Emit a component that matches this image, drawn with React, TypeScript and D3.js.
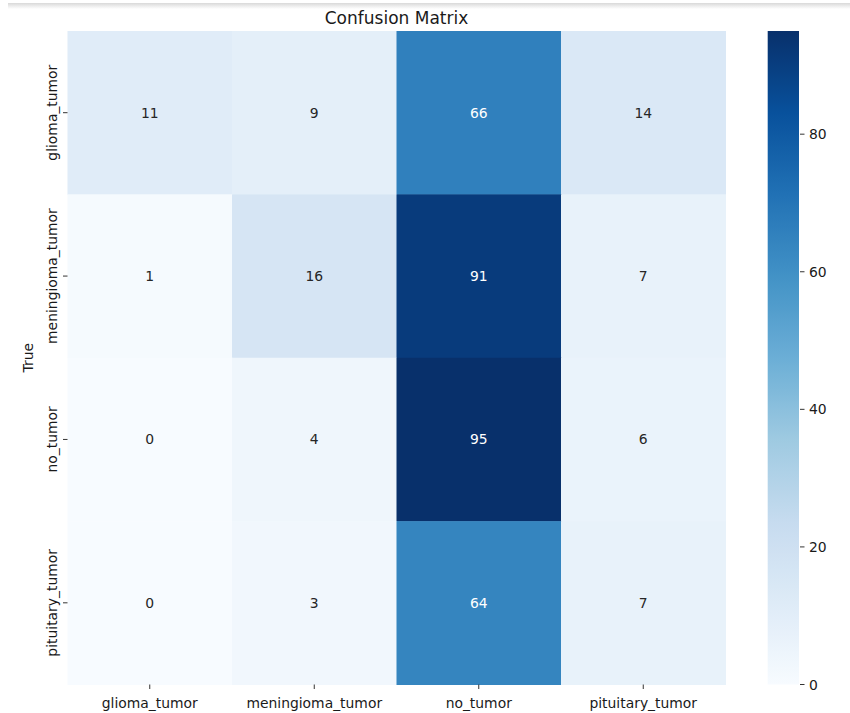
import React from "react";
import * as d3 from "d3";

const categories = ["glioma_tumor", "meningioma_tumor", "no_tumor", "pituitary_tumor"];
const row_glioma = [11, 9, 66, 14];
const row_meningioma = [1, 16, 91, 7];
const row_no = [0, 4, 95, 6];
const row_pituitary = [0, 3, 64, 7];
const matrix = [row_glioma, row_meningioma, row_no, row_pituitary];
const colorbarTicks = [0, 20, 40, 60, 80];
const title = "Confusion Matrix";
const yLabel = "True";

const BLUES = ["#f7fbff", "#deebf7", "#c6dbef", "#9ecae1", "#6baed6", "#4292c6", "#2171b5", "#08519c", "#08306b"];

export default function App() {
  const W = 850, H = 713;
  const left = 67.5, right = 725.5, top = 31, bottom = 684.5;
  const cbL = 767.7, cbR = 799;
  const font = "DejaVu Sans, sans-serif";

  const flat = matrix.flat();
  const vmin = d3.min(flat) as number;
  const vmax = d3.max(flat) as number;

  const x = d3.scaleBand<string>().domain(categories).range([left, right]).padding(0);
  const y = d3.scaleBand<string>().domain(categories).range([top, bottom]).padding(0);
  const color = d3
    .scaleLinear<string>()
    .domain(BLUES.map((_, i) => vmin + ((vmax - vmin) * i) / (BLUES.length - 1)))
    .range(BLUES)
    .interpolate(d3.interpolateRgb);
  const cbY = d3.scaleLinear().domain([vmin, vmax]).range([bottom, top]);

  const lum = (c: string) => {
    const rgb = d3.rgb(c);
    const f = (v: number) => {
      v /= 255;
      return v <= 0.03928 ? v / 12.92 : Math.pow((v + 0.055) / 1.055, 2.4);
    };
    return 0.2126 * f(rgb.r) + 0.7152 * f(rgb.g) + 0.0722 * f(rgb.b);
  };

  const stops = d3.range(0, 41).map((i) => i / 40);

  return (
    <svg width={W} height={H} style={{ position: "absolute", left: 0, top: 0, background: "#fff" }} fontFamily={font}>
      <defs>
        <linearGradient id="cbgrad" x1="0" y1="1" x2="0" y2="0">
          {stops.map((t) => (
            <stop key={t} offset={t} stopColor={color(vmin + t * (vmax - vmin))} />
          ))}
        </linearGradient>
        <linearGradient id="topshade" x1="0" y1="0" x2="0" y2="1">
          <stop offset="0" stopColor="#d9d9d9" />
          <stop offset="1" stopColor="#ffffff" />
        </linearGradient>
      </defs>
      <rect x={0} y={0} width={W} height={H} fill="#fff" />
      <rect x={8} y={3} width={W - 8} height={6} fill="url(#topshade)" />

      <text x={(left + right) / 2} y={24} textAnchor="middle" fontSize={17} fill="#1a1a1a">
        {title}
      </text>

      {matrix.map((row, i) =>
        row.map((v, j) => {
          const c = color(v);
          const cx = (x(categories[j]) as number) + x.bandwidth() / 2;
          const cy = (y(categories[i]) as number) + y.bandwidth() / 2;
          return (
            <g key={`${i}-${j}`}>
              <rect
                x={x(categories[j])}
                y={y(categories[i])}
                width={x.bandwidth() + 0.5}
                height={y.bandwidth() + 0.5}
                fill={c}
              />
              <text
                x={cx}
                y={cy}
                textAnchor="middle"
                dominantBaseline="central"
                fontSize={13.9}
                fill={lum(c) > 0.408 ? "#262626" : "#ffffff"}
              >
                {v}
              </text>
            </g>
          );
        })
      )}

      {categories.map((cat) => {
        const cx = (x(cat) as number) + x.bandwidth() / 2;
        return (
          <g key={"x" + cat}>
            <line x1={cx} x2={cx} y1={bottom} y2={bottom + 4.5} stroke="#333" strokeWidth={1} />
            <text x={cx} y={708} textAnchor="middle" fontSize={13.9} fill="#1a1a1a">
              {cat}
            </text>
          </g>
        );
      })}

      {categories.map((cat) => {
        const cy = (y(cat) as number) + y.bandwidth() / 2;
        return (
          <g key={"y" + cat}>
            <line x1={left - 4.5} x2={left} y1={cy} y2={cy} stroke="#333" strokeWidth={1} />
            <text
              transform={`translate(57,${cy}) rotate(-90)`}
              textAnchor="middle"
              fontSize={13.9}
              fill="#1a1a1a"
            >
              {cat}
            </text>
          </g>
        );
      })}

      <text
        transform={`translate(33,${(top + bottom) / 2}) rotate(-90)`}
        textAnchor="middle"
        fontSize={13.9}
        fill="#1a1a1a"
      >
        {yLabel}
      </text>

      <rect x={cbL} y={top} width={cbR - cbL} height={bottom - top} fill="url(#cbgrad)" />
      {colorbarTicks.map((t) => (
        <g key={"cb" + t}>
          <line x1={cbR + 1} x2={cbR + 5.5} y1={cbY(t)} y2={cbY(t)} stroke="#333" strokeWidth={1} />
          <text x={cbR + 10} y={cbY(t)} dominantBaseline="central" fontSize={13.9} fill="#1a1a1a">
            {t}
          </text>
        </g>
      ))}
    </svg>
  );
}
